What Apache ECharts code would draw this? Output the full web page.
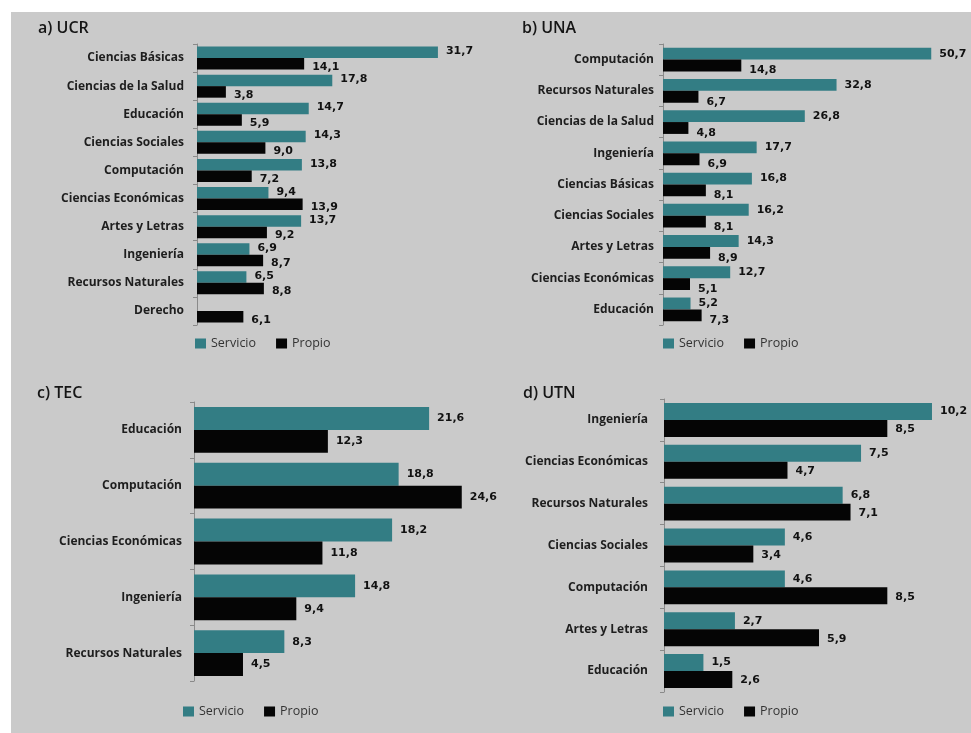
<!DOCTYPE html>
<html>
<head>
<meta charset="utf-8">
<script src="https://cdn.jsdelivr.net/npm/echarts@6/dist/echarts.min.js"></script>
<style>
html,body{margin:0;padding:0;background:#fff;}
#chart{width:971px;height:733px;}
</style>
</head>
<body>
<div id="chart"></div>
<script>
// ---- Data ----
var ucrCats = ['Ciencias Básicas','Ciencias de la Salud','Educación','Ciencias Sociales','Computación','Ciencias Económicas','Artes y Letras','Ingeniería','Recursos Naturales','Derecho'];
var ucrServicio = [31.7,17.8,14.7,14.3,13.8,9.4,13.7,6.9,6.5,null];
var ucrPropio = [14.1,3.8,5.9,9.0,7.2,13.9,9.2,8.7,8.8,6.1];

var unaCats = ['Computación','Recursos Naturales','Ciencias de la Salud','Ingeniería','Ciencias Básicas','Ciencias Sociales','Artes y Letras','Ciencias Económicas','Educación'];
var unaServicio = [50.7,32.8,26.8,17.7,16.8,16.2,14.3,12.7,5.2];
var unaPropio = [14.8,6.7,4.8,6.9,8.1,8.1,8.9,5.1,7.3];

var tecCats = ['Educación','Computación','Ciencias Económicas','Ingeniería','Recursos Naturales'];
var tecServicio = [21.6,18.8,18.2,14.8,8.3];
var tecPropio = [12.3,24.6,11.8,9.4,4.5];

var utnCats = ['Ingeniería','Ciencias Económicas','Recursos Naturales','Ciencias Sociales','Computación','Artes y Letras','Educación'];
var utnServicio = [10.2,7.5,6.8,4.6,4.6,2.7,1.5];
var utnPropio = [8.5,4.7,7.1,3.4,8.5,5.9,2.6];

var panelTitles = ['a) UCR','b) UNA','c) TEC','d) UTN'];
var seriesNames = ['Servicio','Propio'];

// ---- Styles ----
var TEAL = '#337d84';
var BLACK = '#050505';

var panels = [
  {title: panelTitles[0], cats: ucrCats, s: ucrServicio, p: ucrPropio, max: 35,
   grid: {left: 197, top: 44, width: 266, height: 281}, titlePos: {left: 33, top: 15},
   legendPos: {left: 190, top: 332}, margin: 13, gap: '18%', offS: [0,-1], offP: [0,3]},
  {title: panelTitles[1], cats: unaCats, s: unaServicio, p: unaPropio, max: 55,
   grid: {left: 663, top: 44, width: 291, height: 281}, titlePos: {left: 517, top: 15},
   legendPos: {left: 658, top: 332}, margin: 9, gap: '24%', offS: [0,0], offP: [0,5]},
  {title: panelTitles[2], cats: tecCats, s: tecServicio, p: tecPropio, max: 26,
   grid: {left: 194, top: 402, width: 283, height: 279}, titlePos: {left: 32, top: 380},
   legendPos: {left: 178, top: 700}, margin: 12, gap: '18%', offS: [0,0], offP: [0,0]},
  {title: panelTitles[3], cats: utnCats, s: utnServicio, p: utnPropio, max: 11,
   grid: {left: 664, top: 399, width: 289, height: 293}, titlePos: {left: 518, top: 380},
   legendPos: {left: 658, top: 700}, margin: 16, gap: '19%', offS: [0,0], offP: [0,1]}
];

function fmt(p){ return p.value == null ? '' : Number(p.value).toFixed(1).replace('.', ','); }

var option = {
  animation: false,
  backgroundColor: '#ffffff',
  graphic: [{type: 'rect', shape: {x: 11, y: 12, width: 960, height: 721}, style: {fill: '#cacaca'}, z: -10}],
  title: [], legend: [], grid: [], xAxis: [], yAxis: [], series: []
};

panels.forEach(function(pn, i){
  option.title.push({text: pn.title, left: pn.titlePos.left, top: pn.titlePos.top,
    textStyle: {fontFamily: 'Open Sans', fontSize: 16, fontWeight: 600, color: '#151515'}});
  option.legend.push({data: seriesNames, left: pn.legendPos.left, top: pn.legendPos.top,
    itemWidth: 11, itemHeight: 10, itemGap: 20, icon: 'rect',
    textStyle: {fontFamily: 'Open Sans', fontSize: 12.5, color: '#333'}});
  option.grid.push({left: pn.grid.left, top: pn.grid.top, width: pn.grid.width, height: pn.grid.height, containLabel: false});
  option.xAxis.push({gridIndex: i, type: 'value', min: 0, max: pn.max, show: false, splitLine: {show: false}});
  option.yAxis.push({gridIndex: i, type: 'category', data: pn.cats, inverse: true,
    axisLine: {show: true, lineStyle: {color: '#8a8a8a', width: 1}},
    axisTick: {show: true, length: 4, lineStyle: {color: '#8a8a8a'}},
    axisLabel: {margin: pn.margin, fontFamily: 'Open Sans', fontSize: 12, fontWeight: 'bold', color: '#1e1e1e'}});
  var lbl = {show: true, position: 'right', distance: 8, formatter: fmt,
    fontFamily: 'DejaVu Sans', fontSize: 11, fontWeight: 'bold', color: '#111'};
  option.series.push({name: seriesNames[0], type: 'bar', xAxisIndex: i, yAxisIndex: i, data: pn.s,
    barGap: '0%', barCategoryGap: pn.gap, itemStyle: {color: TEAL},
    label: Object.assign({}, lbl, {offset: pn.offS})});
  option.series.push({name: seriesNames[1], type: 'bar', xAxisIndex: i, yAxisIndex: i, data: pn.p,
    barGap: '0%', barCategoryGap: pn.gap, itemStyle: {color: BLACK},
    label: Object.assign({}, lbl, {offset: pn.offP})});
});

var chart = echarts.init(document.getElementById('chart'), null, {renderer: 'canvas'});
chart.setOption(option);
</script>
</body>
</html>
